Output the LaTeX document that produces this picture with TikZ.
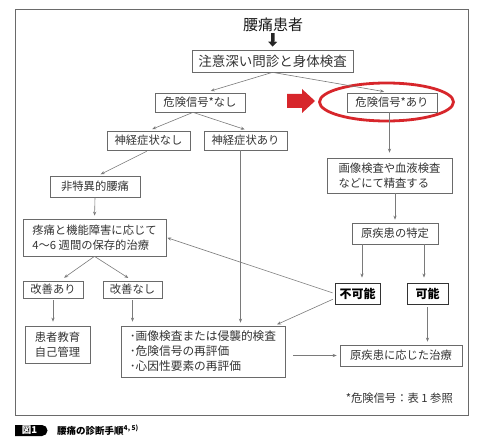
\documentclass[tikz,border=0pt]{standalone}
\usepackage{fontspec}
\newfontfamily\jp{Noto Sans CJK JP}
\usetikzlibrary{arrows.meta}
\definecolor{boxgray}{HTML}{6A6A6A}
\definecolor{lngray}{HTML}{7A7A7A}
\definecolor{txtgray}{HTML}{333333}
\definecolor{redmark}{HTML}{D7262B}

\begin{document}
\begin{tikzpicture}[x=1pt,y=-1pt,>={Stealth[length=4pt,width=3.2pt]},
  box/.style={draw=boxgray,line width=0.7pt,inner sep=0pt,text=txtgray,
    font=\jp\fontsize{11.3}{15}\selectfont},
  keybox/.style={box,draw=black!80,line width=0.9pt,text=black,
    font=\jp\bfseries\fontsize{12}{15}\selectfont},
  conn/.style={->,draw=lngray,line width=0.6pt,shorten >=4pt}]
  \useasboundingbox (0,0) rectangle (480,441);
  \draw[boxgray,line width=0.8pt] (15,9) rectangle (468,415);

  % top of the chart
  \node[inner sep=0pt,text=black!90,font=\jp\fontsize{15}{18}\selectfont] (patient) at (273,25) {腰痛患者};
  \node[box,minimum width=161,minimum height=22,font=\jp\fontsize{13.5}{16}\selectfont] (exam) at (272.5,61) {注意深い問診と身体検査};
  \node[box,minimum width=90,minimum height=19] (redN) at (200,102.5) {危険信号*なし};
  \node[box,minimum width=90,minimum height=19] (redY) at (392,102.5) {危険信号*あり};
  \node[box,minimum width=83,minimum height=19] (nervN) at (148.5,140.5) {神経症状なし};
  \node[box,minimum width=83,minimum height=19] (nervY) at (245.5,140.5) {神経症状あり};
  \node[box,minimum width=125,minimum height=35,align=left] (imaging) at (389.5,175.5) {画像検査や血液検査\\などにて精査する};
  \node[box,minimum width=90,minimum height=21] (nonspec) at (95,186.5) {非特異的腰痛};
  \node[box,minimum width=143,minimum height=37,align=left] (conserv) at (94.5,237.5) {疼痛と機能障害に応じて\\4〜6 週間の保存的治療};
  \node[box,minimum width=86,minimum height=21] (cause) at (395,233.5) {原疾患の特定};
  \node[keybox,minimum width=45,minimum height=21] (impossible) at (357.5,293.5) {不可能};
  \node[keybox,minimum width=41,minimum height=21] (possible) at (427.5,293.5) {可能};
  \node[box,minimum width=60,minimum height=17] (better) at (53,289.5) {改善あり};
  \node[box,minimum width=59,minimum height=17] (nobetter) at (132.5,289.5) {改善なし};
  \node[box,minimum width=65,minimum height=37,align=center] (educ) at (57.5,344.5) {患者教育\\自己管理};
  \node[box,minimum width=164,minimum height=51,align=left,font=\jp\fontsize{11.7}{15}\selectfont] (recheck) at (203,351.5)
    {･画像検査または侵襲的検査\\･危険信号の再評価\\･心因性要素の再評価};
  \node[box,minimum width=122,minimum height=21] (cure) at (401,355.5) {原疾患に応じた治療};
  \node[inner sep=0pt,anchor=east,text=txtgray,font=\jp\fontsize{11.3}{14}\selectfont] (note) at (453,398) {*危険信号：表 1 参照};

  % red highlight
  \fill[redmark] (287,94) -- (302,94) -- (302,89) -- (315,101) -- (302,113) -- (302,108) -- (287,108) -- cycle;
  \draw[redmark,line width=2.8pt] (386.5,102) ellipse [x radius=67pt,y radius=19pt];

  % connectors
  \draw[black!85,line width=3.5pt,-{Triangle[length=5pt,width=9pt]},shorten <=1pt,shorten >=3pt] (patient.south) -- (exam.north);
  \draw[conn,shorten >=6pt] (exam.south) -- ([xshift=5pt]redN.north);
  \draw[conn,shorten >=6pt] (exam.south) -- ([xshift=-2pt]redY.north);
  \draw[conn] ([xshift=-7pt]redN.south) -- (nervN.north);
  \draw[conn] ([xshift=-7pt]redN.south) -- ([xshift=3pt]nervY.north);
  \draw[conn,shorten >=5pt] (redY.south -| imaging.north) -- (imaging.north);
  \draw[conn,shorten <=2pt,shorten >=3pt] (nervN.south) -- ([xshift=3pt]nonspec.north);
  \draw[conn,line width=0.9pt,shorten >=3pt] ([xshift=-5pt]nervY.south) -- ([xshift=-5pt]nervY.south |- recheck.north);
  \draw[conn,shorten >=3pt] (nonspec.south) -- (conserv.north);
  \draw[conn,shorten >=5pt] (conserv.south) -- ([xshift=7pt]better.north);
  \draw[conn,shorten >=5pt] (conserv.south) -- (nobetter.north);
  \draw[conn,shorten <=2pt] (better.south) -- (better.south |- educ.north);
  \draw[conn,shorten <=2pt] (nobetter.south) -- (nobetter.south |- recheck.north);
  \draw[conn,shorten <=2pt,shorten >=1pt] (impossible.west) -- (conserv.east);
  \draw[conn,shorten <=2pt,shorten >=3pt] ([shift={(0,5)}]impossible.west) -- ([xshift=-11pt]recheck.north east);
  \draw[conn,shorten >=3pt] (cause.north |- imaging.south) -- (cause.north);
  \draw[conn,shorten >=5pt] ([xshift=-33pt]cause.south) -- ([xshift=-33pt]cause.south |- impossible.north);
  \draw[conn,shorten >=5pt] ([xshift=29pt]cause.south) -- ([xshift=29pt]cause.south |- possible.north);
  \draw[conn,shorten <=3pt,shorten >=3pt] (possible.south) -- (possible.south |- cure.north);
  \draw[conn,shorten <=8pt,shorten >=3pt] (recheck.east |- cure.west) -- (cure.west);

  % caption
  \fill[black] (15,425) -- (42,425) arc[start angle=90,end angle=-90,radius=5.5pt] -- (15,436) -- cycle;
  \node[inner sep=0pt,text=white,font=\jp\bfseries\fontsize{9.5}{11}\selectfont] (figtag) at (29.5,430.5) {図1};
  \node[inner sep=0pt,anchor=west,font=\jp\bfseries\fontsize{9.5}{11}\selectfont] (caption) at (57,430.5) {腰痛の診断手順\textsuperscript{4, 5)}};
\end{tikzpicture}
\end{document}
